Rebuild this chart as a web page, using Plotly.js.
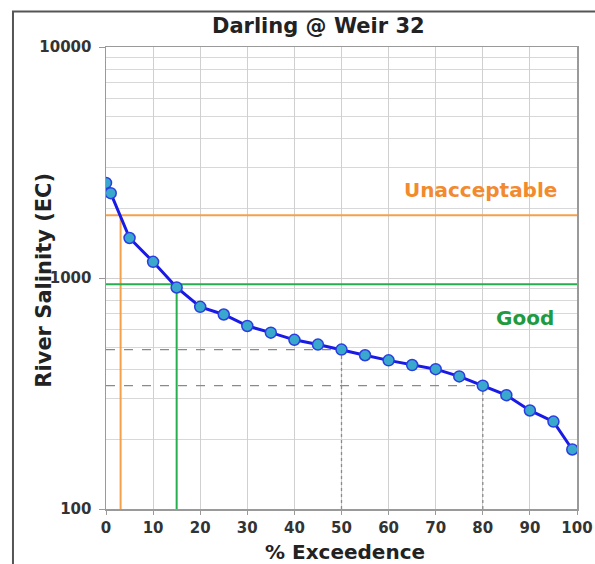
<!DOCTYPE html>
<html>
<head>
<meta charset="utf-8">
<script src="https://cdn.plot.ly/plotly-3.0.1.min.js"></script>
<style>html,body{margin:0;padding:0;background:#fff;}#chart{width:595px;height:564px;}</style>
</head>
<body>
<div id="chart"></div>
<script>
// Data
const exceedence = [0, 1, 5, 10, 15, 20, 25, 30, 35, 40, 45, 50, 55, 60, 65, 70, 75, 80, 85, 90, 95, 99];
const salinity = [2580, 2330, 1490, 1175, 910, 750, 695, 620, 580, 540, 515, 490, 463, 440, 420, 403, 375, 342, 311, 267, 239, 181];
const unacceptableLevel = 1870;
const unacceptableCross = 3.1;
const goodLevel = 940;
const goodCross = 15;
const medianPct = 50, medianEC = 490;
const p80Pct = 80, p80EC = 342;
const yTickVals = [100, 1000, 10000];
const yTickText = ["100", "1000", "10000"];
const yMinorVals = [200, 300, 400, 500, 600, 700, 800, 900, 2000, 3000, 4000, 5000, 6000, 7000, 8000, 9000];
const xTickVals = [0, 10, 20, 30, 40, 50, 60, 70, 80, 90, 100];

const orange = '#f5a14c';
const green = '#27ae4f';
const dashGray = '#8a8a8a';
const FONT = 'DejaVu Sans, Verdana, sans-serif';

const traces = [
  // dashed guides
  {x: [0, medianPct], y: [medianEC, medianEC], mode: 'lines', line: {color: dashGray, width: 1.3, dash: 'dash'}, hoverinfo: 'skip'},
  {x: [medianPct, medianPct], y: [100, medianEC], mode: 'lines', line: {color: dashGray, width: 1.3, dash: 'dot'}, hoverinfo: 'skip'},
  {x: [0, p80Pct], y: [p80EC, p80EC], mode: 'lines', line: {color: dashGray, width: 1.3, dash: 'dash'}, hoverinfo: 'skip'},
  {x: [p80Pct, p80Pct], y: [100, p80EC], mode: 'lines', line: {color: dashGray, width: 1.3, dash: 'dot'}, hoverinfo: 'skip'},
  // thresholds
  {x: [0, 100], y: [unacceptableLevel, unacceptableLevel], mode: 'lines', line: {color: orange, width: 2}, hoverinfo: 'skip'},
  {x: [unacceptableCross, unacceptableCross], y: [100, unacceptableLevel], mode: 'lines', line: {color: orange, width: 2}, hoverinfo: 'skip'},
  {x: [0, 100], y: [goodLevel, goodLevel], mode: 'lines', line: {color: green, width: 2}, hoverinfo: 'skip'},
  {x: [goodCross, goodCross], y: [100, goodLevel], mode: 'lines', line: {color: green, width: 2}, hoverinfo: 'skip'},
  // exceedence curve
  {x: exceedence, y: salinity, mode: 'lines+markers',
   line: {color: '#1a1ae6', width: 3},
   marker: {size: 11, color: '#3aa8cc', line: {color: '#2a3ee0', width: 1.5}}}
];

const tickFont = {size: 15, color: '#333', family: FONT, weight: 'bold'};

const layout = {
  width: 595, height: 564,
  margin: {l: 106, r: 18, t: 47, b: 55},
  paper_bgcolor: '#ffffff', plot_bgcolor: '#ffffff',
  showlegend: false,
  font: {family: FONT, color: '#333'},
  title: {text: '<b>Darling @ Weir 32</b>', font: {size: 21, color: '#222', family: FONT}, xref: 'container', x: 0.535, y: 0.954, xanchor: 'center', yanchor: 'middle'},
  xaxis: {
    range: [0, 100], tickmode: 'array', tickvals: xTickVals,
    showgrid: true, gridcolor: '#d0d0d0', gridwidth: 1,
    showline: true, linecolor: '#9a9a9a', linewidth: 1.5, mirror: true,
    ticks: 'outside', ticklen: 4, tickcolor: '#9a9a9a',
    tickfont: tickFont,
    zeroline: false, fixedrange: true
  },
  yaxis: {
    type: 'log', range: [2, 4], tickmode: 'array', tickvals: yTickVals, ticktext: yTickText,
    showgrid: true, gridcolor: '#d0d0d0', gridwidth: 1,
    minor: {tickmode: 'array', tickvals: yMinorVals, showgrid: true, gridcolor: '#d8d8d8', gridwidth: 1, ticks: ''},
    showline: true, linecolor: '#9a9a9a', linewidth: 1.5, mirror: true,
    ticks: 'outside', ticklen: 6, tickcolor: '#9a9a9a', ticklabelstandoff: 4,
    tickfont: tickFont,
    zeroline: false, fixedrange: true
  },
  annotations: [
    {text: '<b>River Salinity (EC)</b>', xref: 'paper', yref: 'paper', x: -0.132, y: 0.496, textangle: -90, showarrow: false, font: {size: 21, color: '#222', family: FONT}, xanchor: 'center', yanchor: 'middle'},
    {text: '<b>% Exceedence</b>', xref: 'paper', yref: 'paper', x: 0.507, y: -0.093, showarrow: false, font: {size: 20, color: '#222', family: FONT}, xanchor: 'center', yanchor: 'middle'},
    {text: '<b>Unacceptable</b>', xref: 'x', yref: 'y', x: 79.5, y: Math.log10(2400), showarrow: false, font: {size: 20, color: '#f28a2e', family: FONT}, xanchor: 'center', yanchor: 'middle'},
    {text: '<b>Good</b>', xref: 'x', yref: 'y', x: 89, y: Math.log10(671), showarrow: false, font: {size: 20, color: '#1f9a3e', family: FONT}, xanchor: 'center', yanchor: 'middle'}
  ],
  shapes: [
    {type: 'rect', xref: 'paper', yref: 'paper', x0: -0.1975, x1: 1.3, y0: -0.3, y1: 1.0768, line: {color: '#555', width: 2}, fillcolor: 'rgba(0,0,0,0)'}
  ]
};

Plotly.newPlot('chart', traces, layout, {displayModeBar: false, staticPlot: true});
</script>
</body>
</html>
